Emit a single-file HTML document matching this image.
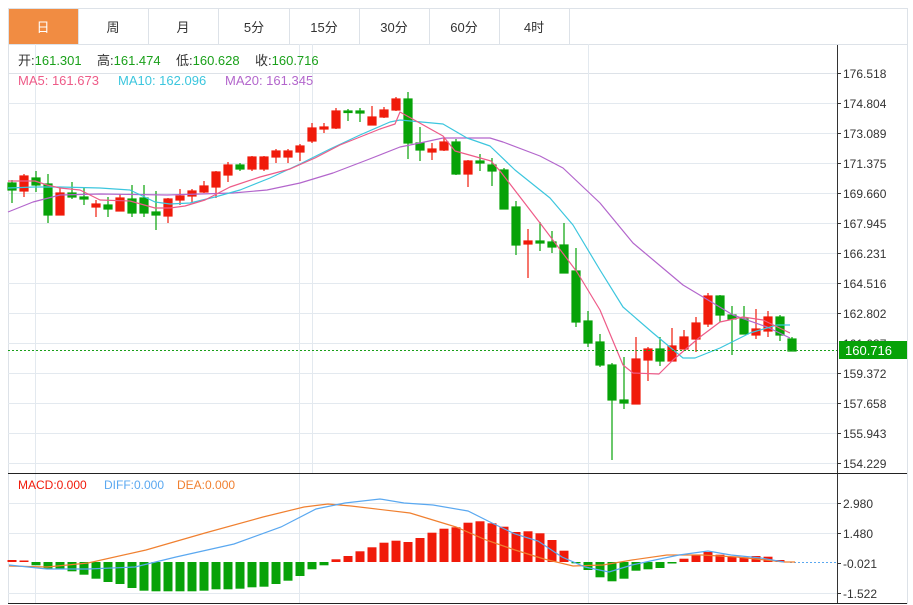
<!DOCTYPE html>
<html><head><meta charset="utf-8"><style>
html,body{margin:0;padding:0;background:#fff;width:913px;height:605px;overflow:hidden}
svg{display:block}
text{font-family:"Liberation Sans","Noto Sans CJK SC",sans-serif}
</style></head><body>
<svg width="913" height="605" viewBox="0 0 913 605" xmlns="http://www.w3.org/2000/svg">
<!-- frame -->
<rect x="8.5" y="8.5" width="899" height="595" fill="#fff" stroke="#dde2e8"/>
<!-- tabs -->
<rect x="9" y="9" width="69" height="35" fill="#f18c42"/>
<g stroke="#dde2e8"><line x1="78.5" y1="9" x2="78.5" y2="44"/><line x1="148.5" y1="9" x2="148.5" y2="44"/><line x1="218.5" y1="9" x2="218.5" y2="44"/><line x1="289.5" y1="9" x2="289.5" y2="44"/><line x1="359.5" y1="9" x2="359.5" y2="44"/><line x1="429.5" y1="9" x2="429.5" y2="44"/><line x1="499.5" y1="9" x2="499.5" y2="44"/><line x1="569.5" y1="9" x2="569.5" y2="44"/>
<line x1="8" y1="44.5" x2="907" y2="44.5"/><line x1="8" y1="73.5" x2="837" y2="73.5"/></g>
<g font-size="13" fill="#333" text-anchor="middle">
<text x="43" y="32" fill="#fff">日</text><text x="113" y="32">周</text><text x="183" y="32">月</text><text x="254" y="32">5分</text><text x="324" y="32">15分</text><text x="394" y="32">30分</text><text x="464" y="32">60分</text><text x="534" y="32">4时</text>
</g>
<!-- grid -->
<g stroke="#e3e9ef" stroke-width="1">
<line x1="35.5" y1="44" x2="35.5" y2="603"/><line x1="299.5" y1="44" x2="299.5" y2="603"/><line x1="312.5" y1="44" x2="312.5" y2="473"/><line x1="588.5" y1="44" x2="588.5" y2="603"/>
<line x1="8" y1="103.5" x2="837" y2="103.5"/><line x1="8" y1="133.5" x2="837" y2="133.5"/><line x1="8" y1="163.5" x2="837" y2="163.5"/><line x1="8" y1="193.5" x2="837" y2="193.5"/><line x1="8" y1="223.5" x2="837" y2="223.5"/><line x1="8" y1="253.5" x2="837" y2="253.5"/><line x1="8" y1="283.5" x2="837" y2="283.5"/><line x1="8" y1="313.5" x2="837" y2="313.5"/><line x1="8" y1="343.5" x2="837" y2="343.5"/><line x1="8" y1="373.5" x2="837" y2="373.5"/><line x1="8" y1="403.5" x2="837" y2="403.5"/><line x1="8" y1="433.5" x2="837" y2="433.5"/><line x1="8" y1="463.5" x2="837" y2="463.5"/>
<line x1="8" y1="503.5" x2="837" y2="503.5"/><line x1="8" y1="533.5" x2="837" y2="533.5"/><line x1="8" y1="593.5" x2="837" y2="593.5"/>
</g>
<!-- header text -->
<g font-size="13">
<text x="18" y="65" fill="#333">开:<tspan fill="#1aa01a">161.301</tspan></text>
<text x="97" y="65" fill="#333">高:<tspan fill="#1aa01a">161.474</tspan></text>
<text x="176" y="65" fill="#333">低:<tspan fill="#1aa01a">160.628</tspan></text>
<text x="255" y="65" fill="#333">收:<tspan fill="#1aa01a">160.716</tspan></text>
<text x="18" y="85" fill="#ee5b88">MA5: 161.673</text>
<text x="118" y="85" fill="#3cc6de">MA10: 162.096</text>
<text x="225" y="85" fill="#b366cc">MA20: 161.345</text>
</g>
<!-- candles -->
<g stroke-width="1.2">
<g fill="#07a208" stroke="#07a208">
<line x1="12" y1="180" x2="12" y2="203"/><rect x="8" y="183" width="8" height="7"/>
<line x1="36" y1="171" x2="36" y2="192"/><rect x="32" y="178" width="8" height="7"/>
<line x1="48" y1="174" x2="48" y2="223"/><rect x="44" y="184" width="8" height="31"/>
<line x1="72" y1="182" x2="72" y2="199"/><rect x="68" y="193" width="8" height="4"/>
<line x1="84" y1="187" x2="84" y2="205"/><rect x="80" y="197" width="8" height="2"/>
<line x1="108" y1="197" x2="108" y2="217"/><rect x="104" y="205" width="8" height="4"/>
<line x1="132" y1="185" x2="132" y2="217"/><rect x="128" y="199" width="8" height="14"/>
<line x1="144" y1="185" x2="144" y2="217"/><rect x="140" y="198" width="8" height="15"/>
<line x1="156" y1="191" x2="156" y2="230"/><rect x="152" y="212" width="8" height="3"/>
<line x1="240" y1="163" x2="240" y2="171"/><rect x="236" y="165" width="8" height="4"/>
<line x1="348" y1="109" x2="348" y2="121"/><rect x="344" y="111" width="8" height="1.5"/>
<line x1="360" y1="108" x2="360" y2="122"/><rect x="356" y="111" width="8" height="2"/>
<line x1="408" y1="92" x2="408" y2="159"/><rect x="404" y="99" width="8" height="44"/>
<line x1="420" y1="127" x2="420" y2="161"/><rect x="416" y="143" width="8" height="7"/>
<line x1="456" y1="139" x2="456" y2="175"/><rect x="452" y="142" width="8" height="32"/>
<line x1="480" y1="154" x2="480" y2="171"/><rect x="476" y="161" width="8" height="2"/>
<line x1="492" y1="158" x2="492" y2="186"/><rect x="488" y="165" width="8" height="6"/>
<line x1="504" y1="168" x2="504" y2="209"/><rect x="500" y="170" width="8" height="39"/>
<line x1="516" y1="201" x2="516" y2="255"/><rect x="512" y="207" width="8" height="38"/>
<line x1="540" y1="222" x2="540" y2="251"/><rect x="536" y="241" width="8" height="2"/>
<line x1="552" y1="231" x2="552" y2="253"/><rect x="548" y="242" width="8" height="5"/>
<line x1="564" y1="223" x2="564" y2="273"/><rect x="560" y="245" width="8" height="28"/>
<line x1="576" y1="248" x2="576" y2="327"/><rect x="572" y="271" width="8" height="51"/>
<line x1="588" y1="311" x2="588" y2="347"/><rect x="584" y="321" width="8" height="22"/>
<line x1="600" y1="334" x2="600" y2="367"/><rect x="596" y="342" width="8" height="23"/>
<line x1="612" y1="363" x2="612" y2="460"/><rect x="608" y="365" width="8" height="35"/>
<line x1="624" y1="357" x2="624" y2="409"/><rect x="620" y="400" width="8" height="3"/>
<line x1="660" y1="337" x2="660" y2="366"/><rect x="656" y="349" width="8" height="12"/>
<line x1="720" y1="295" x2="720" y2="322"/><rect x="716" y="296" width="8" height="19"/>
<line x1="732" y1="306" x2="732" y2="355"/><rect x="728" y="315" width="8" height="4"/>
<line x1="744" y1="306" x2="744" y2="334"/><rect x="740" y="319" width="8" height="15"/>
<line x1="780" y1="315" x2="780" y2="341"/><rect x="776" y="317" width="8" height="18"/>
<line x1="792" y1="337" x2="792" y2="351"/><rect x="788" y="339" width="8" height="12"/>
</g>
<g fill="#f01a0a" stroke="#f01a0a">
<line x1="24" y1="174" x2="24" y2="197"/><rect x="20" y="176" width="8" height="15"/>
<line x1="60" y1="187" x2="60" y2="215"/><rect x="56" y="193" width="8" height="22"/>
<line x1="96" y1="200" x2="96" y2="217"/><rect x="92" y="204" width="8" height="3"/>
<line x1="120" y1="194" x2="120" y2="211"/><rect x="116" y="198" width="8" height="13"/>
<line x1="168" y1="198" x2="168" y2="223"/><rect x="164" y="199" width="8" height="17"/>
<line x1="180" y1="189" x2="180" y2="205"/><rect x="176" y="196" width="8" height="4"/>
<line x1="192" y1="189" x2="192" y2="202"/><rect x="188" y="191" width="8" height="5"/>
<line x1="204" y1="181" x2="204" y2="193"/><rect x="200" y="186" width="8" height="6"/>
<line x1="216" y1="171" x2="216" y2="198"/><rect x="212" y="172" width="8" height="15"/>
<line x1="228" y1="162" x2="228" y2="182"/><rect x="224" y="165" width="8" height="10"/>
<line x1="252" y1="156" x2="252" y2="171"/><rect x="248" y="157" width="8" height="12"/>
<line x1="264" y1="156" x2="264" y2="171"/><rect x="260" y="157" width="8" height="12"/>
<line x1="276" y1="149" x2="276" y2="163"/><rect x="272" y="151" width="8" height="6"/>
<line x1="288" y1="149" x2="288" y2="163"/><rect x="284" y="151" width="8" height="6"/>
<line x1="300" y1="144" x2="300" y2="161"/><rect x="296" y="146" width="8" height="6"/>
<line x1="312" y1="123" x2="312" y2="143"/><rect x="308" y="128" width="8" height="13"/>
<line x1="324" y1="123" x2="324" y2="133"/><rect x="320" y="127" width="8" height="2"/>
<line x1="336" y1="108" x2="336" y2="129"/><rect x="332" y="111" width="8" height="17"/>
<line x1="372" y1="106" x2="372" y2="125"/><rect x="368" y="117" width="8" height="8"/>
<line x1="384" y1="107" x2="384" y2="118"/><rect x="380" y="110" width="8" height="7"/>
<line x1="396" y1="97" x2="396" y2="111"/><rect x="392" y="99" width="8" height="11"/>
<line x1="432" y1="143" x2="432" y2="160"/><rect x="428" y="149" width="8" height="3"/>
<line x1="444" y1="137" x2="444" y2="151"/><rect x="440" y="142" width="8" height="8"/>
<line x1="468" y1="160" x2="468" y2="187"/><rect x="464" y="161" width="8" height="13"/>
<line x1="528" y1="229" x2="528" y2="278"/><rect x="524" y="241" width="8" height="3"/>
<line x1="636" y1="337" x2="636" y2="404"/><rect x="632" y="359" width="8" height="45"/>
<line x1="648" y1="347" x2="648" y2="381"/><rect x="644" y="349" width="8" height="11"/>
<line x1="672" y1="328" x2="672" y2="361"/><rect x="668" y="346" width="8" height="15"/>
<line x1="684" y1="330" x2="684" y2="349"/><rect x="680" y="337" width="8" height="12"/>
<line x1="696" y1="317" x2="696" y2="352"/><rect x="692" y="323" width="8" height="16"/>
<line x1="708" y1="293" x2="708" y2="327"/><rect x="704" y="296" width="8" height="28"/>
<line x1="756" y1="309" x2="756" y2="339"/><rect x="752" y="329" width="8" height="6"/>
<line x1="768" y1="311" x2="768" y2="337"/><rect x="764" y="317" width="8" height="14"/>
</g>
</g>
<!-- MA lines -->
<g fill="none" stroke-width="1.2" stroke-linejoin="round">
<polyline stroke="#b366cc" points="8,212 33,202 60,195 100,194 167,195 233,193 267,190 300,183 333,173 367,160 400,147 420,143 443,138 490,138 503,142 540,156 563,168 600,203 633,243 683,285 703,297 733,315 767,327 790,338"/>
<polyline stroke="#3cc6de" points="8,188 35,187 60,187 100,188 130,190 155,202 170,204 190,203 215,197 240,190 270,178 300,164 330,149 360,135 390,122 400,120 443,124 467,138 490,146 515,170 550,198 573,225 600,270 623,307 653,333 683,358 695,358 720,348 750,333 777,325 790,325"/>
<polyline stroke="#ee5b88" points="8,181 35,181 47,185 60,188 80,190 100,200 130,201 155,208 170,208 185,206 205,200 230,187 260,177 290,169 315,158 340,145 365,135 380,129 395,124 400,112 443,136 455,151 491,161 500,171 540,223 577,272 600,310 623,365 633,373 659,374 673,360 700,337 720,322 743,317 763,320 790,333"/>
</g>
<!-- current price -->
<line x1="8" y1="350.5" x2="837" y2="350.5" stroke="#1aa01a" stroke-dasharray="2,2"/>
<!-- axis -->
<line x1="837.5" y1="45" x2="837.5" y2="603" stroke="#333"/>
<line x1="8" y1="473.5" x2="907" y2="473.5" stroke="#222"/>
<line x1="8" y1="603.5" x2="907" y2="603.5" stroke="#222"/>
<g stroke="#333"><line x1="837" y1="73.5" x2="841" y2="73.5"/><line x1="837" y1="103.5" x2="841" y2="103.5"/><line x1="837" y1="133.5" x2="841" y2="133.5"/><line x1="837" y1="163.5" x2="841" y2="163.5"/><line x1="837" y1="193.5" x2="841" y2="193.5"/><line x1="837" y1="223.5" x2="841" y2="223.5"/><line x1="837" y1="253.5" x2="841" y2="253.5"/><line x1="837" y1="283.5" x2="841" y2="283.5"/><line x1="837" y1="313.5" x2="841" y2="313.5"/><line x1="837" y1="373.5" x2="841" y2="373.5"/><line x1="837" y1="403.5" x2="841" y2="403.5"/><line x1="837" y1="433.5" x2="841" y2="433.5"/><line x1="837" y1="463.5" x2="841" y2="463.5"/>
<line x1="837" y1="503.5" x2="841" y2="503.5"/><line x1="837" y1="533.5" x2="841" y2="533.5"/><line x1="837" y1="563.5" x2="841" y2="563.5"/><line x1="837" y1="593.5" x2="841" y2="593.5"/></g>
<g font-size="12" fill="#333">
<text x="843" y="78">176.518</text><text x="843" y="108">174.804</text><text x="843" y="138">173.089</text><text x="843" y="168">171.375</text><text x="843" y="198">169.660</text><text x="843" y="228">167.945</text><text x="843" y="258">166.231</text><text x="843" y="288">164.516</text><text x="843" y="318">162.802</text><text x="843" y="348">161.087</text><text x="843" y="378">159.372</text><text x="843" y="408">157.658</text><text x="843" y="438">155.943</text><text x="843" y="468">154.229</text>
<text x="843" y="508">2.980</text><text x="843" y="538">1.480</text><text x="843" y="568">-0.021</text><text x="843" y="598">-1.522</text>
</g>
<rect x="839" y="341" width="68" height="18" fill="#07a208"/>
<text x="845" y="355" font-size="13" fill="#fff">160.716</text>
<!-- MACD -->
<g font-size="12"><text x="18" y="489" fill="#f01a0a">MACD:0.000</text><text x="104" y="489" fill="#5aa8f0">DIFF:0.000</text><text x="177" y="489" fill="#f08030">DEA:0.000</text></g>
<g fill="#07a208">
<rect x="31.5" y="562" width="9" height="3.3"/><rect x="43.5" y="562" width="9" height="6.7"/><rect x="55.5" y="562" width="9" height="7.3"/><rect x="67.5" y="562" width="9" height="9.3"/><rect x="79.5" y="562" width="9" height="12.7"/><rect x="91.5" y="562" width="9" height="16.7"/><rect x="103.5" y="562" width="9" height="20"/><rect x="115.5" y="562" width="9" height="22"/><rect x="127.5" y="562" width="9" height="26"/><rect x="139.5" y="562" width="9" height="28.7"/><rect x="151.5" y="562" width="9" height="29.3"/><rect x="163.5" y="562" width="9" height="29.3"/><rect x="175.5" y="562" width="9" height="29.3"/><rect x="187.5" y="562" width="9" height="29.3"/><rect x="199.5" y="562" width="9" height="28.7"/><rect x="211.5" y="562" width="9" height="27.3"/><rect x="223.5" y="562" width="9" height="27.3"/><rect x="235.5" y="562" width="9" height="26.7"/><rect x="247.5" y="562" width="9" height="25.3"/><rect x="259.5" y="562" width="9" height="24.7"/><rect x="271.5" y="562" width="9" height="22"/><rect x="283.5" y="562" width="9" height="18.7"/><rect x="295.5" y="562" width="9" height="14"/><rect x="307.5" y="562" width="9" height="7.3"/><rect x="319.5" y="562" width="9" height="3.3"/>
<rect x="571.5" y="562" width="9" height="1.3"/><rect x="583.5" y="562" width="9" height="8"/><rect x="595.5" y="562" width="9" height="15.3"/><rect x="607.5" y="562" width="9" height="19.3"/><rect x="619.5" y="562" width="9" height="16.7"/><rect x="631.5" y="562" width="9" height="8.7"/><rect x="643.5" y="562" width="9" height="7.3"/><rect x="655.5" y="562" width="9" height="6"/><rect x="667.5" y="562" width="9" height="1.5"/>
</g>
<g fill="#f01a0a">
<rect x="7.5" y="560" width="9" height="2"/><rect x="19.5" y="560.5" width="9" height="1.5"/>
<rect x="331.5" y="559.3" width="9" height="2.7"/><rect x="343.5" y="556" width="9" height="6"/><rect x="355.5" y="551.3" width="9" height="10.7"/><rect x="367.5" y="547.3" width="9" height="14.7"/><rect x="379.5" y="542.7" width="9" height="19.3"/><rect x="391.5" y="540.7" width="9" height="21.3"/><rect x="403.5" y="542" width="9" height="20"/><rect x="415.5" y="538" width="9" height="24"/><rect x="427.5" y="532.7" width="9" height="29.3"/><rect x="439.5" y="528.7" width="9" height="33.3"/><rect x="451.5" y="527.3" width="9" height="34.7"/><rect x="463.5" y="522.7" width="9" height="39.3"/><rect x="475.5" y="521.3" width="9" height="40.7"/><rect x="487.5" y="523.3" width="9" height="38.7"/><rect x="499.5" y="526.7" width="9" height="35.3"/><rect x="511.5" y="532" width="9" height="30"/><rect x="523.5" y="531.3" width="9" height="30.7"/><rect x="535.5" y="533.3" width="9" height="28.7"/><rect x="547.5" y="540" width="9" height="22"/><rect x="559.5" y="550.7" width="9" height="11.3"/>
<rect x="679.5" y="558.7" width="9" height="3.3"/><rect x="691.5" y="554.7" width="9" height="7.3"/><rect x="703.5" y="552" width="9" height="10"/><rect x="715.5" y="554.7" width="9" height="7.3"/><rect x="727.5" y="556.7" width="9" height="5.3"/><rect x="739.5" y="557.3" width="9" height="4.7"/><rect x="751.5" y="556" width="9" height="6"/><rect x="763.5" y="556.7" width="9" height="5.3"/><rect x="775.5" y="560" width="9" height="2"/>
</g>
<line x1="790" y1="562.5" x2="837" y2="562.5" stroke="#5aa8f0" stroke-dasharray="2,2"/>
<g fill="none" stroke-width="1.2">
<polyline stroke="#f08030" points="9,566 47,567 88,563 146,550 205,533 263,517 304,507 328,504 351,506 410,513 456,527 486,540 515,550 544,559 573,566 603,565 632,560 667,555 702,555 737,557 784,562 795,562"/>
<polyline stroke="#5aa8f0" points="9,565 47,569 88,569 135,567 176,557 234,544 281,527 316,509 345,503 380,499 404,503 433,505 468,511 492,523 515,534 538,541 562,557 585,567 609,572 632,565 655,560 679,555 708,551 731,555 761,558 784,562"/>
</g>
</svg>
</body></html>
